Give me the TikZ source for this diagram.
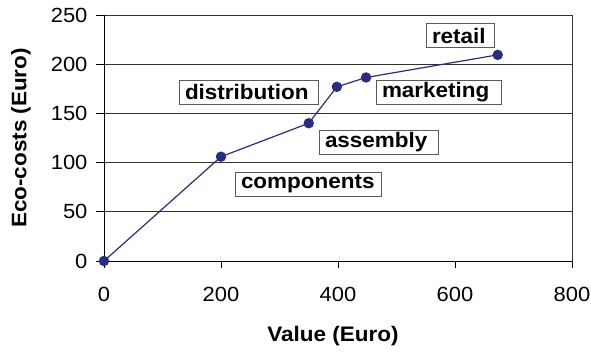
\documentclass[tikz,border=0pt]{standalone}
\usepackage{fontspec}
\setmainfont[FakeStretch=1.07]{Liberation Sans}
\definecolor{navy}{RGB}{40,44,130}
\definecolor{boxgray}{RGB}{90,90,90}
\begin{document}
\begin{tikzpicture}[x=1pt,y=1pt,
  grid/.style={black!80,line width=0.8pt},
  axis/.style={black,line width=0.9pt},
  ticklbl/.style={font=\fontsize{20.5}{22}\selectfont,inner sep=0pt},
  axlbl/.style={font=\fontsize{21}{22}\selectfont\bfseries,inner sep=0pt},
  lbl/.style={draw=boxgray,line width=0.7pt,fill=white,minimum height=24pt,inner xsep=6pt,inner ysep=0pt,align=left,font=\fontsize{21}{22}\selectfont\bfseries},
  series/.style={navy,line width=1.2pt},
  marker/.style={circle,fill=navy,inner sep=0pt,minimum size=10.5pt}]
\useasboundingbox (0,0) rectangle (591,353);
\begin{scope}[shift={(104,92)},x=0.585pt,y=0.984pt]
  % gridlines
  \foreach \v in {50,100,...,250} \draw[grid] (0,\v) -- (800,\v);
  % right border
  \draw[grid] (800,0) -- (800,250);
  % axes
  \draw[axis] (0,0) -- (800,0);
  \draw[axis] (0,0) -- (0,250);
  % ticks
  \foreach \v in {0,50,...,250} {
    \draw[axis] (-13.7,\v) -- (0,\v);
    \node[ticklbl,anchor=east] (yt\v) at (-28,\v) {\v};
  }
  \foreach \v in {0,200,400,600,800} {
    \draw[axis] (\v,0) -- (\v,-7.5);
    \node[ticklbl] (xt\v) at (\v,-34) {\v};
  }
  % data
  \coordinate (d0) at (0,0);
  \coordinate (d1) at (200,106);
  \coordinate (d2) at (350,140);
  \coordinate (d3) at (398,177);
  \coordinate (d4) at (448,186.5);
  \coordinate (d5) at (673,209.5);
  \draw[series] (d0) -- (d1) -- (d2) -- (d3) -- (d4) -- (d5);
  \foreach \i in {0,...,5} \node[marker] (m\i) at (d\i) {};
\end{scope}
% axis titles
\node[axlbl] (xtitle) at (333,17) {Value (Euro)};
\node[axlbl,rotate=90] (ytitle) at (21,215) {Eco-costs (Euro)};
% labels
\node[lbl,text width=56pt] (retail) at (460,317.5) {retail};
\node[lbl,text width=113pt] (marketing) at (438.5,261) {marketing};
\node[lbl,text width=127pt] (distribution) at (248.5,261) {distribution};
\node[lbl,text width=107pt] (assembly) at (378.5,211) {assembly};
\node[lbl,text width=134pt] (components) at (308,169) {components};
\end{tikzpicture}
\end{document}
